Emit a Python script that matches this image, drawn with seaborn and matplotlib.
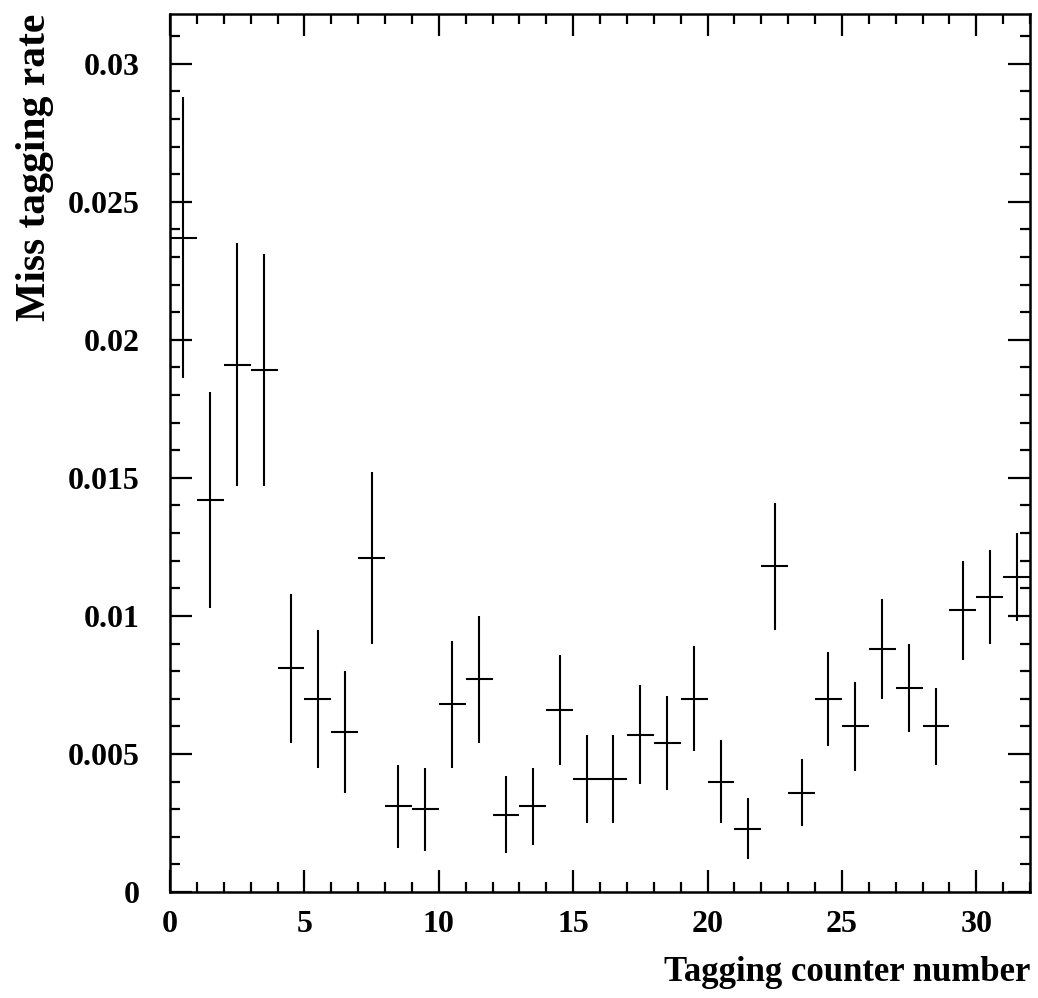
import numpy as np
import matplotlib
matplotlib.use("Agg")
import matplotlib.pyplot as plt
import seaborn as sns
from matplotlib.ticker import MultipleLocator, FuncFormatter

# Data (one bin per tagging counter)
counter = np.arange(32) + 0.5
rate = [0.0237, 0.0142, 0.0191, 0.0189, 0.0081, 0.0070, 0.0058, 0.0121,
        0.0031, 0.0030, 0.0068, 0.0077, 0.0028, 0.0031, 0.0066, 0.0041,
        0.0041, 0.0057, 0.0054, 0.0070, 0.0040, 0.0023, 0.0118, 0.0036,
        0.0070, 0.0060, 0.0088, 0.0074, 0.0060, 0.0102, 0.0107, 0.0114]
rate_err = [0.0051, 0.0039, 0.0044, 0.0042, 0.0027, 0.0025, 0.0022, 0.0031,
            0.0015, 0.0015, 0.0023, 0.0023, 0.0014, 0.0014, 0.0020, 0.0016,
            0.0016, 0.0018, 0.0017, 0.0019, 0.0015, 0.0011, 0.0023, 0.0012,
            0.0017, 0.0016, 0.0018, 0.0016, 0.0014, 0.0018, 0.0017, 0.0016]
bin_half_width = 0.5

sns.set_theme(style="ticks")
plt.rcParams["font.family"] = ["Liberation Serif", "DejaVu Serif"]
plt.rcParams["font.weight"] = "bold"
for key in ["text.color", "axes.labelcolor", "xtick.color", "ytick.color",
            "axes.edgecolor"]:
    plt.rcParams[key] = "black"

fig = plt.figure(figsize=(10.38, 9.98), dpi=100)
ax = fig.add_axes([0.1638, 0.1062, 0.8285, 0.8798])

ax.errorbar(counter, rate, yerr=rate_err, xerr=bin_half_width,
            fmt="none", ecolor="black", elinewidth=1.5, capsize=0)

ax.set_xlim(0, 32)
ax.set_ylim(0, 0.0318)

ax.xaxis.set_major_locator(MultipleLocator(5))
ax.xaxis.set_minor_locator(MultipleLocator(1))
ax.yaxis.set_major_locator(MultipleLocator(0.005))
ax.yaxis.set_minor_locator(MultipleLocator(0.001))
ax.yaxis.set_major_formatter(FuncFormatter(lambda v, p: "%g" % round(v, 4)))

ax.tick_params(which="both", direction="in", top=True, right=True,
               color="black", labelcolor="black", width=1.6)
ax.tick_params(which="major", length=16, labelsize=23)
ax.tick_params(axis="x", which="major", pad=13)
ax.tick_params(axis="y", which="major", pad=22)
ax.tick_params(which="minor", length=7.5)
for lab in ax.get_xticklabels() + ax.get_yticklabels():
    lab.set_fontweight("bold")
for s in ax.spines.values():
    s.set_linewidth(1.8)
    s.set_color("black")

ax.set_xlabel("Tagging counter number", fontsize=25, fontweight="bold",
              color="black", loc="right", labelpad=12)
ax.set_ylabel("Miss tagging rate", fontsize=30, fontweight="bold",
              color="black", loc="top", labelpad=10)

fig.savefig("out.png", dpi=100)
